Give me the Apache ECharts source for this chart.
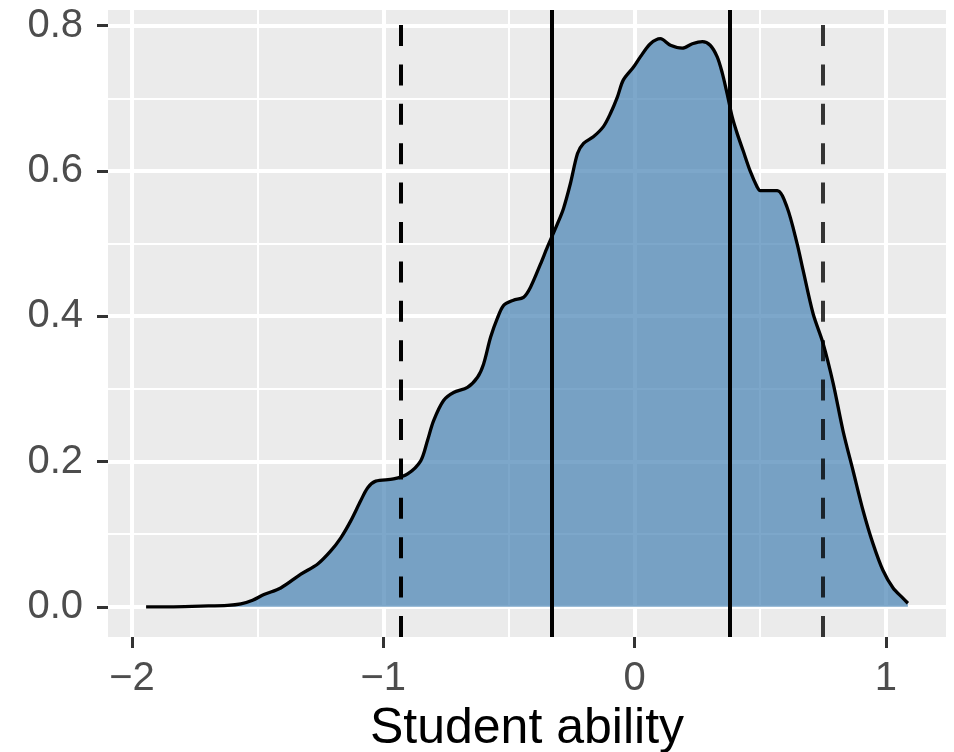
<!DOCTYPE html>
<html>
<head>
<meta charset="utf-8">
<script src="https://cdn.jsdelivr.net/npm/echarts@6/dist/echarts.min.js"></script>
<style>
  html, body { margin: 0; padding: 0; background: #ffffff; }
  #chart { width: 954px; height: 752px; }
</style>
</head>
<body>
<div id="chart"></div>
<script>
// ---- data ----
const densityX = [-1.944, -1.85, -1.726, -1.62, -1.567, -1.52, -1.475, -1.408, -1.328, -1.261,
  -1.209, -1.169, -1.130, -1.090, -1.062, -1.030, -0.959, -0.903, -0.851, -0.824,
  -0.800, -0.760, -0.720, -0.665, -0.625, -0.601, -0.573, -0.545, -0.521, -0.482,
  -0.442, -0.414, -0.374, -0.347, -0.307, -0.283, -0.255, -0.227, -0.203, -0.164,
  -0.124, -0.096, -0.068, -0.045, -0.004, 0.023, 0.063, 0.103, 0.143, 0.190,
  0.230, 0.270, 0.301, 0.329, 0.349, 0.368, 0.389, 0.409, 0.432, 0.460,
  0.488, 0.500, 0.568, 0.607, 0.647, 0.671, 0.711, 0.751, 0.791, 0.830,
  0.870, 0.910, 0.949, 0.989, 1.029, 1.068, 1.088];
const densityY = [0.000, 0.000, 0.001, 0.002, 0.004, 0.009, 0.017, 0.026, 0.045, 0.059,
  0.077, 0.095, 0.118, 0.146, 0.164, 0.173, 0.176, 0.183, 0.201, 0.229,
  0.256, 0.284, 0.295, 0.302, 0.316, 0.334, 0.371, 0.398, 0.415, 0.422,
  0.426, 0.440, 0.472, 0.495, 0.527, 0.548, 0.583, 0.624, 0.638, 0.647,
  0.661, 0.679, 0.702, 0.725, 0.743, 0.757, 0.775, 0.782, 0.773, 0.769,
  0.775, 0.778, 0.773, 0.757, 0.735, 0.707, 0.674, 0.651, 0.628, 0.600,
  0.578, 0.573, 0.573, 0.550, 0.500, 0.463, 0.403, 0.362, 0.307, 0.242,
  0.187, 0.132, 0.087, 0.050, 0.026, 0.012, 0.005];
const solidLines = [-0.327, 0.381];
const dashedLines = [-0.928, 0.749];
const xTicks = [-2, -1, 0, 1];
const xMinorTicks = [-1.5, -0.5, 0.5];
const yTicks = [0, 0.2, 0.4, 0.6, 0.8];
const yMinorTicks = [0.1, 0.3, 0.5, 0.7];
const xTitle = 'Student ability';

// ---- chart ----
const xMin = -2.0956, xMax = 1.2396;
const yMin = -0.0415, yMax = 0.8215;
const points = densityX.map((x, i) => [x, densityY[i]]);

const chart = echarts.init(document.getElementById('chart'), null, { renderer: 'canvas' });
const labelFont = { fontFamily: 'Liberation Sans, Arial, sans-serif', fontSize: 40, color: '#4D4D4D' };

chart.setOption({
  animation: false,
  backgroundColor: '#ffffff',
  grid: {
    left: 108, top: 10, width: 838, height: 627,
    containLabel: false, outerBoundsMode: 'none',
    show: true, backgroundColor: '#EBEBEB', borderWidth: 0
  },
  xAxis: [
    {
      type: 'value', min: xMin, max: xMax, position: 'bottom',
      axisLine: { show: false, onZero: false },
      axisTick: { show: true, length: 11, lineStyle: { color: '#333333', width: 3 }, customValues: xTicks },
      axisLabel: Object.assign({ margin: 22, customValues: xTicks,
        formatter: v => String(v).replace('-', '\u2212') }, labelFont),
      splitLine: { show: true, lineStyle: { color: '#ffffff', width: 4 } },
      name: xTitle, nameLocation: 'middle', nameGap: 66,
      nameTextStyle: { fontFamily: 'Liberation Sans, Arial, sans-serif', fontSize: 50, color: '#000000' }
    },
    {
      type: 'value', min: xMin, max: xMax, position: 'bottom',
      axisLine: { show: false, onZero: false },
      axisTick: { show: false, customValues: xMinorTicks },
      axisLabel: { show: false, customValues: xMinorTicks },
      splitLine: { show: true, lineStyle: { color: '#ffffff', width: 2 } }
    }
  ],
  yAxis: [
    {
      type: 'value', min: yMin, max: yMax, position: 'left',
      axisLine: { show: false, onZero: false },
      axisTick: { show: true, length: 11, lineStyle: { color: '#333333', width: 3 }, customValues: yTicks },
      axisLabel: Object.assign({ margin: 25, customValues: yTicks,
        formatter: v => Number(v).toFixed(1) }, labelFont),
      splitLine: { show: true, lineStyle: { color: '#ffffff', width: 4 } }
    },
    {
      type: 'value', min: yMin, max: yMax, position: 'left',
      axisLine: { show: false, onZero: false },
      axisTick: { show: false, customValues: yMinorTicks },
      axisLabel: { show: false, customValues: yMinorTicks },
      splitLine: { show: true, lineStyle: { color: '#ffffff', width: 2 } }
    }
  ],
  series: [
    {
      type: 'line',
      xAxisIndex: 0, yAxisIndex: 0,
      data: points,
      smooth: 0.3,
      symbol: 'none',
      lineStyle: { color: '#000000', width: 3.3 },
      areaStyle: { color: 'rgb(70,130,180)', opacity: 0.7, origin: 0 },
      z: 2,
      markLine: {
        silent: true,
        symbol: ['none', 'none'],
        label: { show: false },
        animation: false,
        data: [
          ...solidLines.map(v => ({ xAxis: v, lineStyle: { color: '#000000', width: 4, type: 'solid' } })),
          ...dashedLines.map((v, i) => ({ xAxis: v, lineStyle: { color: i === 0 ? '#000000' : 'rgba(0,0,0,0.78)', width: 4, type: [21, 18.4] } }))
        ]
      }
    }
  ]
});
</script>
</body>
</html>
